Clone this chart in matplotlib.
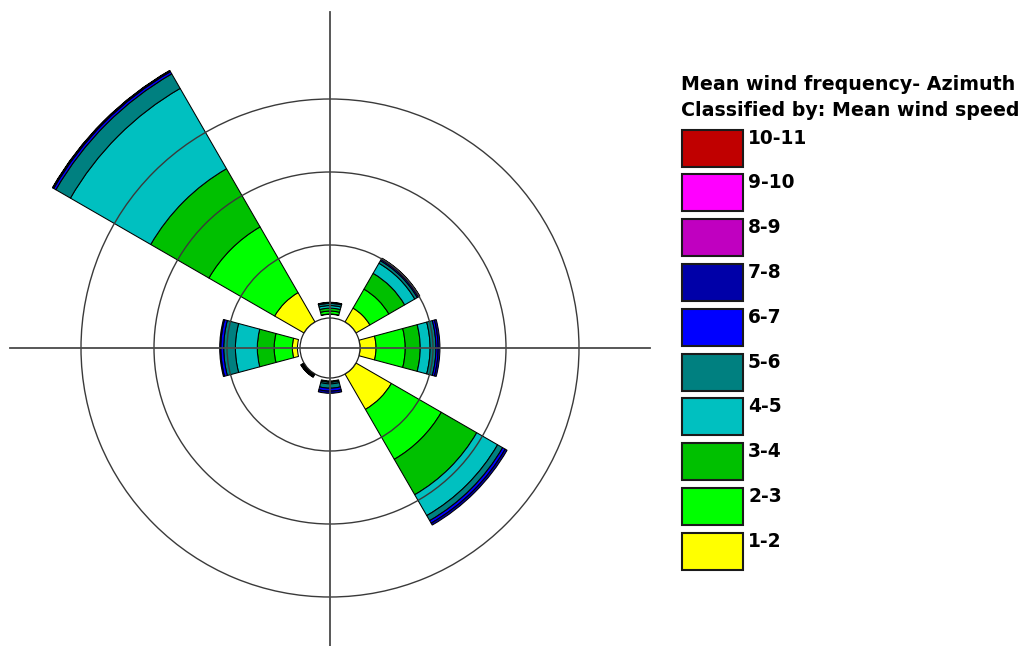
import numpy as np
import matplotlib

matplotlib.use("Agg")
import matplotlib.pyplot as plt  # noqa: E402
from matplotlib.patches import Rectangle  # noqa: E402

# sectors (degrees clockwise from north), frequencies in %
directions = [0, 45, 90, 135, 180, 225, 270, 315]
calm = [0.5, 0.0, 0.0, 0.0, 0.4, 0.0, 0.35, 0.0]  # below 1 m/s, left blank

speed_classes = ["1-2", "2-3", "3-4", "4-5", "5-6", "6-7", "7-8", "8-9", "9-10", "10-11"]
class_colors = ["#ffff00", "#00ff00", "#00c000", "#00c0c0", "#008080",
                "#0000ff", "#0000a8", "#c000c0", "#ff00ff", "#c00000"]

freq_1_2 = [0.05, 2.2, 2.2, 5.6, 0.0, 0.05, 0.7, 4.65]
freq_2_3 = [0.4, 3.0, 4.0, 7.9, 0.1, 0.1, 2.5, 10.4]
freq_3_4 = [0.4, 2.5, 2.05, 5.6, 0.1, 0.1, 2.3, 9.2]
freq_4_5 = [0.35, 1.6, 1.35, 3.3, 0.2, 0.1, 3.0, 12.7]
freq_5_6 = [0.3, 0.4, 0.8, 0.8, 0.6, 0.1, 1.6, 2.3]
freq_6_7 = [0.1, 0.2, 0.3, 0.4, 0.4, 0.03, 0.4, 0.35]
freq_7_8 = [0.05, 0.15, 0.25, 0.3, 0.3, 0.02, 0.15, 0.15]
freq_8_9 = [0.0, 0.05, 0.0, 0.0, 0.0, 0.0, 0.0, 0.05]
freq_9_10 = [0.0, 0.0, 0.0, 0.0, 0.0, 0.0, 0.0, 0.0]
freq_10_11 = [0.0, 0.0, 0.0, 0.0, 0.0, 0.0, 0.0, 0.0]

rings = [10, 20, 30]

W, H = 1030, 646
CX, CY = 330, 348        # rose centre, px from top-left
HOLE = 30                # px
PX_PER_UNIT = 7.3
RMAX = 40

fig = plt.figure(figsize=(W / 100, H / 100), dpi=100)
fig.patch.set_facecolor("white")

rad_px = HOLE + RMAX * PX_PER_UNIT
ax = fig.add_axes([(CX - rad_px) / W, (H - CY - rad_px) / H,
                   2 * rad_px / W, 2 * rad_px / H], projection="polar")
ax.set_theta_zero_location("N")
ax.set_theta_direction(-1)
rorigin = -HOLE / PX_PER_UNIT
ax.set_rorigin(rorigin)
ax.set_ylim(0, RMAX)

theta = np.deg2rad(directions)
width = np.deg2rad(30)
series = [freq_1_2, freq_2_3, freq_3_4, freq_4_5, freq_5_6,
          freq_6_7, freq_7_8, freq_8_9, freq_9_10, freq_10_11]
bottom = np.array(calm, dtype=float)
for vals, col in zip(series, class_colors):
    vals = np.array(vals, dtype=float)
    m = vals > 0
    if m.any():
        ax.bar(theta[m], vals[m], width=width, bottom=bottom[m], color=col,
               edgecolor="black", linewidth=0.75, align="center")
    bottom = bottom + vals

ax.set_axisbelow(False)
ax.set_yticks(rings)
ax.set_yticklabels([])
ax.set_xticks([])
ax.yaxis.grid(True, color="#3a3a3a", linewidth=1.0)
ax.xaxis.grid(False)
ax.spines["polar"].set_visible(False)
ax.spines["inner"].set_color("#222222")
ax.spines["inner"].set_linewidth(0.9)

# cross hair through the centre
r_h = (320 - HOLE) / PX_PER_UNIT
r_v = (336 - HOLE) / PX_PER_UNIT
for ang, rr in [(0, r_v), (180, r_v), (90, r_h), (270, r_h)]:
    ax.plot([np.deg2rad(ang)] * 2, [rorigin, rr], color="#4a4a4a",
            linewidth=1.3, clip_on=False, zorder=5)

# legend drawn in pixel space
lg = fig.add_axes([0, 0, 1, 1])
lg.set_xlim(0, W)
lg.set_ylim(H, 0)
lg.axis("off")
font = dict(family="DejaVu Sans", weight="bold", color="black")
lg.text(681, 75, "Mean wind frequency- Azimuth", va="top", ha="left",
        size=13.7, **font)
lg.text(681, 101, "Classified by: Mean wind speed", va="top", ha="left",
        size=13.7, **font)
for i, (lab, col) in enumerate(zip(speed_classes[::-1], class_colors[::-1])):
    top = 129.5 + i * 44.8
    lg.add_patch(Rectangle((682, top), 61, 37, facecolor=col,
                           edgecolor="#1a1a1a", linewidth=1.5))
    lg.text(748, top - 1, lab, va="top", ha="left", size=13.4, **font)

fig.savefig("out.png", dpi=100)
